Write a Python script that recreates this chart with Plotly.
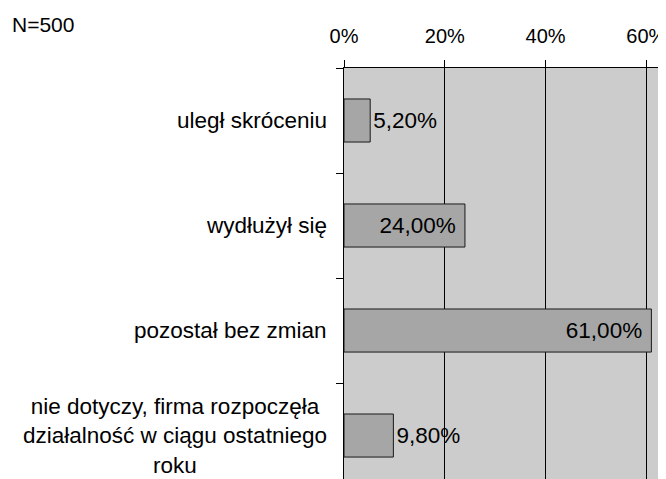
import plotly.graph_objects as go

# dane z wykresu
categories = ['uległ skróceniu', 'wydłużył się', 'pozostał bez zmian',
              'nie dotyczy, firma rozpoczęła<br>działalność w ciągu ostatniego<br>roku']
values = [5.2, 24.0, 61.0, 9.8]
text_pos = ['outside', 'inside', 'inside', 'outside']
x_ticks = [0, 20, 40, 60]
x_ticktext = ['0%', '20%', '40%', '60%']
note = 'N=500'

FAMILY = 'Arial, Liberation Sans, sans-serif'
FONT = dict(family=FAMILY, size=22.5, color='black')
TICKFONT = dict(family=FAMILY, size=20, color='black')
ypos = list(range(len(categories)))
labels = [f'{v:.2f}'.replace('.', ',') + '%' + ('\u00a0' if p == 'inside' else '')
          for v, p in zip(values, text_pos)]

fig = go.Figure()
fig.add_trace(go.Bar(
    x=values, y=ypos, orientation='h', width=0.41,
    marker=dict(color='#a6a6a6', line=dict(color='#1a1a1a', width=1)),
    text=labels, textposition=text_pos, insidetextanchor='end',
    textfont=FONT, outsidetextfont=FONT, insidetextfont=FONT,
    cliponaxis=False, showlegend=False,
))

# etykiety kategorii
for i, c in enumerate(categories):
    fig.add_annotation(x=0, xref='paper', y=i, yref='y', text=c, showarrow=False,
                       xanchor='right', align='center', xshift=-15, font=FONT)

fig.add_annotation(x=0, xref='paper', y=1, yref='paper', text=note, showarrow=False,
                   xanchor='left', yanchor='middle', xshift=-334, yshift=44,
                   font=dict(family=FAMILY, size=21, color='black'))

fig.update_xaxes(side='top', range=[0, 63.5], tickvals=x_ticks, ticktext=x_ticktext,
                 ticks='outside', ticklen=7, tickcolor='black', tickfont=TICKFONT,
                 ticklabelstandoff=9, ticklabeloverflow='allow',
                 showline=True, linecolor='black', linewidth=1,
                 showgrid=True, gridcolor='black', gridwidth=1, zeroline=False)
fig.update_yaxes(range=[3.414, -0.5], tickvals=[-0.5, 0.5, 1.5, 2.5, 3.5],
                 ticktext=['', '', '', '', ''], ticks='outside', ticklen=7,
                 tickcolor='black', showline=True, linecolor='black', linewidth=1,
                 showgrid=False, zeroline=False)

# strona ma 8px marginesu body, więc figura jest o 8px mniejsza
fig.update_layout(
    width=658, height=471,
    margin=dict(l=336, r=0, t=60, b=0),
    plot_bgcolor='#cccccc', paper_bgcolor='white',
    font=FONT,
)

fig.write_html('out.html')
